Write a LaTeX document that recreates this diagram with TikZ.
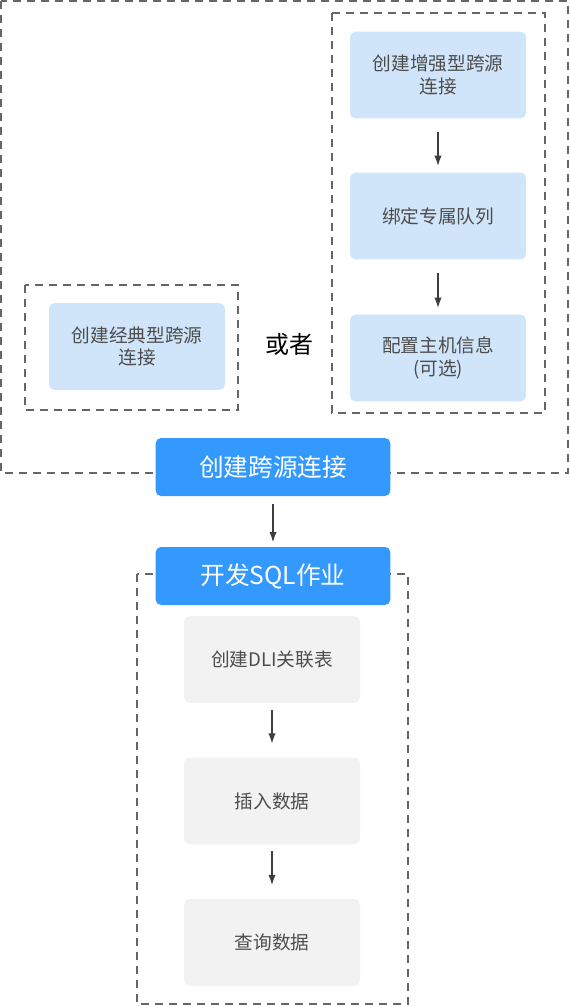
\documentclass[tikz,border=0pt]{standalone}
\usepackage{fontspec}
\setmainfont{Noto Sans CJK SC}
\usetikzlibrary{positioning,arrows.meta}
\definecolor{xanhnhat}{RGB}{208,229,249}
\definecolor{xanhdam}{RGB}{51,153,255}
\definecolor{xamnhat}{RGB}{242,242,242}
\definecolor{chuxam}{RGB}{77,77,77}
\definecolor{netdut}{RGB}{102,102,102}
\begin{document}
\begin{tikzpicture}[x=0.75pt,y=-0.75pt]
		\tikzset{
			every node/.style={font=\fontsize{14}{17}\selectfont,text=chuxam,align=center},
			% khung nét đứt
			khung/.style={draw=netdut,line width=1.5pt,dash pattern=on 6pt off 4.5pt},
			% hộp xanh nhạt
			hopxanh/.style={fill=xanhnhat,rounded corners=4pt,minimum width=132pt,minimum height=65pt},
			% hộp xanh đậm
			hopchinh/.style={fill=xanhdam,rounded corners=4pt,minimum width=176pt,minimum height=43.5pt,text=white,font=\fontsize{18.5}{22}\selectfont},
			% hộp xám
			hopxam/.style={fill=xamnhat,rounded corners=4pt,minimum width=132pt,minimum height=65pt},
			% mũi tên
			muiten/.style={-{Latex[length=8pt,width=5.5pt]},draw=chuxam!80!black,line width=1.4pt},
		}
		\useasboundingbox (0,0) rectangle (569,1006);
		%
		\draw[khung] (1,1) rectangle (568,473);
		\draw[khung] (25,285) rectangle (238,410);
		\draw[khung] (332,13) rectangle (545,413);
		\draw[khung] (137,574) rectangle (408,1004);
		%
		\node[hopxanh] (cd) at (137,346.5) {创建经典型跨源\\连接};
		\node[font=\fontsize{18}{22}\selectfont,text=black] (hoac) at (289,344) {或者};
		\node[hopxanh] (tc) at (438,75) {创建增强型跨源\\连接};
		\node[hopxanh] (hd) at (438,216) {绑定专属队列};
		\node[hopxanh] (ch) at (438,358) {配置主机信息\\(可选)};
		%
		\node[hopchinh] (kn) at (273,467) {创建跨源连接};
		\node[hopchinh] (sql) at (273,576) {开发SQL作业};
		%
		\node[hopxam] (bang) at (272,659.5) {创建DLI关联表};
		\node[hopxam] (chen) at (272,801) {插入数据};
		\node[hopxam] (tv) at (272,942.5) {查询数据};
		%
		\draw[muiten,shorten <=10pt,shorten >=4.5pt] (tc)--(hd);
		\draw[muiten,shorten <=10pt,shorten >=4.5pt] (hd)--(ch);
		\draw[muiten,shorten <=6pt,shorten >=3pt] (kn)--(sql);
		\draw[muiten,shorten <=5pt,shorten >=10pt] (bang)--(chen);
		\draw[muiten,shorten <=5pt,shorten >=10pt] (chen)--(tv);
\end{tikzpicture}
\end{document}
